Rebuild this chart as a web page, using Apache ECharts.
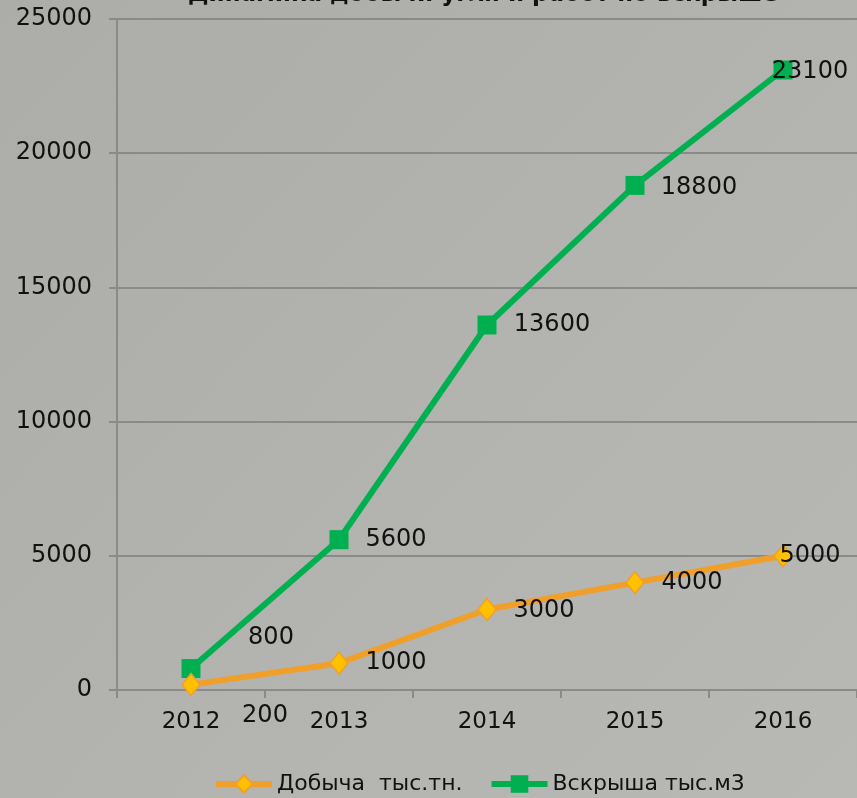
<!DOCTYPE html>
<html><head><meta charset="utf-8">
<script src="https://cdn.jsdelivr.net/npm/echarts@6/dist/echarts.min.js"></script>
<style>html,body{margin:0;padding:0;background:#aeafaa;}#c{width:857px;height:798px;}</style>
</head><body><div id="c"></div>
<script>
const titleText = 'Динамика добычи угля и работ по вскрыше';
const years = ['2012','2013','2014','2015','2016'];
const seriesNames = ['Добыча  тыс.тн.', 'Вскрыша тыс.м3'];
const dobycha = [200, 1000, 3000, 4000, 5000];
const vskrysha = [800, 5600, 13600, 18800, 23100];
const yTicks = [0, 5000, 10000, 15000, 20000, 25000];

const dobOffsets = [[74,31],[57,0],[57,1],[57,0],[27,0]];
const vskOffsets = [[80,-31],[57,0],[65,0],[64,2],[27,2]];
const FONT = 'DejaVu Sans';
function withLabels(vals, offs){
  return vals.map((v,i)=>({value:v,label:{offset:offs[i]}}));
}
const chart = echarts.init(document.getElementById('c'));
chart.setOption({
  backgroundColor: new echarts.graphic.LinearGradient(0,0,1,1,[
    {offset:0,color:'#acada8'},{offset:0.55,color:'#b3b4af'},{offset:1,color:'#b8b9b4'}]),
  animation:false,
  title:{text:titleText,left:478,textAlign:'center',top:-21,
    textStyle:{fontFamily:FONT,fontSize:23,fontWeight:'bold',color:'#111'}},
  grid:{left:117,right:-3,top:19,bottom:108,containLabel:false},
  legend:{bottom:-2,left:208,itemWidth:56,itemHeight:22,itemGap:26,
    textStyle:{fontFamily:FONT,fontSize:22,color:'#111'},
    data:[
      {name:seriesNames[0],lineStyle:{width:6,color:'#f0a02a'}},
      {name:seriesNames[1],lineStyle:{width:6,color:'#00b050'}}]},
  xAxis:{type:'category',data:years,boundaryGap:true,
    axisLine:{lineStyle:{color:'#8a8a8a',width:2}},
    axisTick:{show:true,length:8,lineStyle:{color:'#8a8a8a',width:2}},
    axisLabel:{fontFamily:FONT,fontSize:23,color:'#111',margin:21}},
  yAxis:{type:'value',min:yTicks[0],max:yTicks[yTicks.length-1],interval:5000,
    axisLine:{show:true,lineStyle:{color:'#8a8a8a',width:2}},
    axisTick:{show:true,length:8,lineStyle:{color:'#8a8a8a',width:2}},
    splitLine:{lineStyle:{color:'#8a8a8a',width:2}},
    axisLabel:{fontFamily:FONT,fontSize:24,color:'#111',margin:25,formatter:v=>String(v)}},
  series:[
    {name:seriesNames[0],type:'line',data:withLabels(dobycha,dobOffsets),
      symbol:'diamond',symbolSize:[18,22],
      lineStyle:{color:'#f0a02a',width:6},
      itemStyle:{color:'#ffc000',borderColor:'#f0a02a',borderWidth:1.5},
      label:{show:true,position:'inside',fontFamily:FONT,fontSize:24,color:'#111'},
      z:3},
    {name:seriesNames[1],type:'line',data:withLabels(vskrysha,vskOffsets),
      symbol:'rect',symbolSize:19,
      lineStyle:{color:'#00b050',width:6},
      itemStyle:{color:'#00b050'},
      label:{show:true,position:'inside',fontFamily:FONT,fontSize:24,color:'#111'},
      z:2}
  ]
});
</script></body></html>
